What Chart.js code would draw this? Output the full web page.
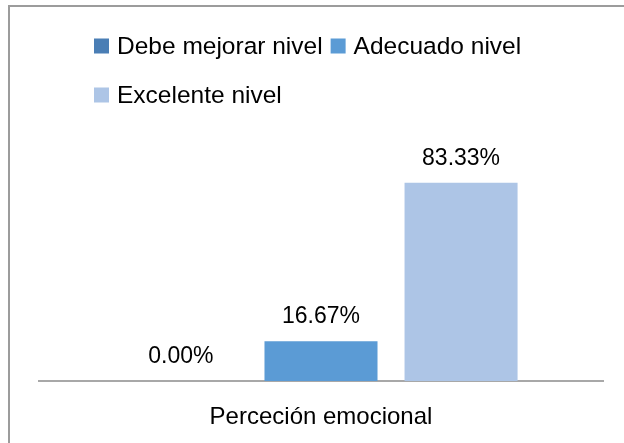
<!DOCTYPE html>
<html>
<head>
<meta charset="utf-8">
<script src="https://cdn.jsdelivr.net/npm/chart.js@4/dist/chart.umd.min.js"></script>
<style>
  html, body { margin: 0; padding: 0; background: #fff; overflow: hidden; }
  #frame {
    position: absolute; left: 8px; top: 5px;
    width: 700px; height: 500px;
    border: 2px solid #9c9c9c;
  }
  #chart { position: absolute; left: 0; top: 0; }
</style>
</head>
<body>
<div id="frame"></div>
<canvas id="chart" width="624" height="443"></canvas>
<script>
  "use strict";

  // Data
  const categories = ["Perceción emocional"];
  const seriesNames = ["Debe mejorar nivel", "Adecuado nivel", "Excelente nivel"];
  const debeMejorar = [0.0];
  const adecuado = [16.67];
  const excelente = [83.33];
  const seriesColors = ["#4a7eb5", "#5b9bd5", "#adc5e6"];

  const FONT = "'Liberation Sans', Arial, sans-serif";

  // Legend drawn in rows, left aligned, like the Excel legend
  const rowLegend = {
    id: "rowLegend",
    afterDraw(chart) {
      const ctx = chart.ctx;
      const startX = 94;
      const maxRight = 560;
      const box = 15;
      let x = startX;
      let y = 46;

      ctx.save();
      ctx.font = "24.5px " + FONT;
      ctx.textBaseline = "middle";
      ctx.textAlign = "left";
      chart.data.datasets.forEach((ds) => {
        const w = box + 8 + ctx.measureText(ds.label).width;
        if (x > startX && x + w > maxRight) {
          x = startX;
          y += 49;
        }
        ctx.fillStyle = ds.backgroundColor;
        ctx.fillRect(x, y - box / 2, box, box);
        ctx.fillStyle = "#000";
        ctx.fillText(ds.label, x + box + 8, y + 1);
        x += w + 8;
      });
      ctx.restore();
    },
  };

  // Value labels above each bar
  const valueLabels = {
    id: "valueLabels",
    afterDatasetsDraw(chart) {
      const ctx = chart.ctx;
      ctx.save();
      ctx.font = "23px " + FONT;
      ctx.fillStyle = "#000";
      ctx.textAlign = "center";
      ctx.textBaseline = "alphabetic";
      chart.data.datasets.forEach((ds, i) => {
        chart.getDatasetMeta(i).data.forEach((bar, j) => {
          ctx.fillText(ds.data[j].toFixed(2) + "%", bar.x, bar.y - 18);
        });
      });
      ctx.restore();
    },
  };

  const ctx = document.getElementById("chart");

  new Chart(ctx, {
    type: "bar",
    data: {
      labels: categories,
      datasets: [
        { label: seriesNames[0], data: debeMejorar, backgroundColor: seriesColors[0] },
        { label: seriesNames[1], data: adecuado, backgroundColor: seriesColors[1] },
        { label: seriesNames[2], data: excelente, backgroundColor: seriesColors[2] },
      ],
    },
    options: {
      responsive: false,
      animation: false,
      layout: {
        padding: { left: 39, right: 21, top: 143, bottom: 0 },
      },
      datasets: {
        bar: {
          categoryPercentage: 0.745,
          barPercentage: 0.807,
          borderWidth: 0,
        },
      },
      plugins: {
        legend: { display: false },
        tooltip: { enabled: false },
      },
      scales: {
        x: {
          grid: { display: false },
          border: { display: true, color: "#a8a8a8", width: 2 },
          ticks: {
            color: "#000",
            padding: 14,
            font: { family: FONT, size: 24 },
          },
          afterFit(scale) {
            scale.height = 62;
          },
        },
        y: {
          display: false,
          min: 0,
          max: 100,
        },
      },
    },
    plugins: [rowLegend, valueLabels],
  });
</script>
</body>
</html>
